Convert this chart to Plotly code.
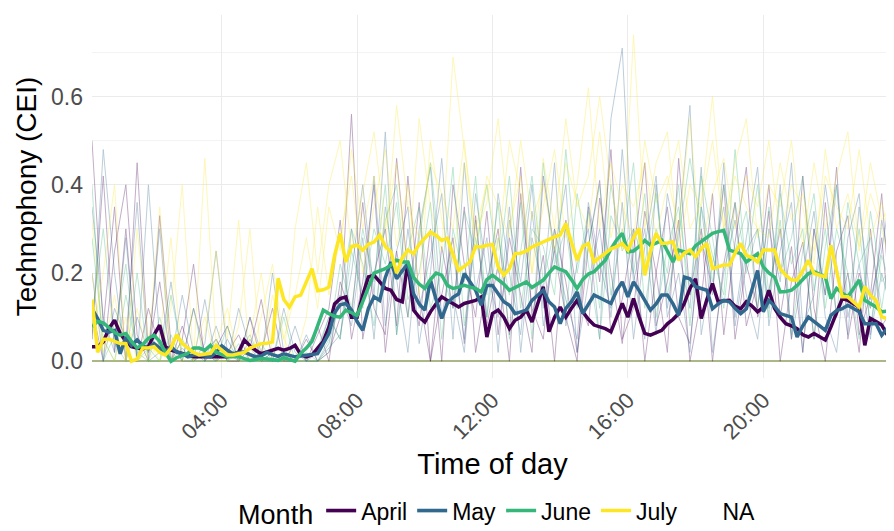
import pandas as pd
import plotly.graph_objects as go

# monthly mean CEI, 10-min steps from 00:10 to 23:50 (one row per hour)
april = [
    .033, .033, .044, .074, .093, .063,  .045, .033, .030, .028, .033, .060,
    .082, .033, .025, .021, .017, .014,  .010, .010, .010, .010, .010, .010,
    .010, .015, .021, .048, .035, .025,  .017, .021, .025, .029, .025, .029,
    .036, .015, .010, .014, .030, .045,  .078, .130, .142, .146, .100, .100,
    .150, .191, .195, .180, .165, .161,  .140, .135, .225, .116, .100, .089,
    .112, .130, .146, .138, .130, .123,  .131, .135, .138, .146, .055, .108,
    .116, .100, .074, .093, .100, .116,  .089, .130, .169, .067, .100, .123,
    .100, .120, .138, .112, .095, .082,  .078, .074, .067, .100, .131, .100,
    .142, .100, .063, .059, .065, .070,  .085, .095, .108, .131, .165, .187,
    .097, .140, .176, .135, .137, .138,  .125, .119, .135, .125, .112, .123,
    .161, .120, .100, .085, .080, .074,  .060, .055, .063, .055, .048, .078,
    .110, .142, .138, .130, .123, .036,  .097, .090, .082, .060, .055,
]
may = [
    .119, .097, .070, .066, .070, .017,  .055, .036, .048, .035, .029, .040,
    .030, .021, .033, .021, .017, .010,  .014, .014, .012, .010, .020, .035,
    .025, .017, .020, .021, .015, .010,  .012, .020, .015, .011, .017, .014,
    .010, .012, .014, .016, .017, .040,  .063, .110, .128, .131, .116, .090,
    .070, .120, .146, .138, .190, .225,  .187, .205, .221, .153, .130, .116,
    .184, .140, .097, .131, .145, .153,  .199, .180, .161, .127, .172, .172,
    .153, .135, .127, .108, .112, .116,  .138, .150, .161, .135, .123, .085,
    .120, .135, .157, .108, .130, .150,  .144, .138, .131, .160, .180, .146,
    .180, .160, .138, .116, .130, .150,  .150, .130, .104, .191, .187, .169,
    .165, .161, .119, .130, .138, .135,  .120, .108, .119, .160, .206, .112,
    .138, .125, .108, .104, .100, .055,  .080, .100, .089, .080, .070, .104,
    .115, .119, .127, .120, .112, .085,  .085, .085, .059, .075, .104,
]
june = [
    .078, .090, .087, .075, .065, .059,  .063, .045, .030, .038, .052, .059,
    .045, .020, .000, .008, .012, .018,  .030, .030, .025, .036, .020, .014,
    .010, .010, .010, .006, .002, .004,  .006, .005, .003, .002, .008, .004,
    .000, .018, .030, .045, .080, .116,  .108, .102, .100, .116, .110, .104,
    .135, .170, .200, .205, .210, .218,  .229, .225, .225, .190, .175, .165,
    .185, .200, .195, .172, .165, .168,  .172, .168, .165, .157, .185, .195,
    .184, .175, .161, .168, .175, .180,  .167, .175, .184, .200, .214, .208,
    .203, .185, .165, .185, .198, .203,  .215, .229, .255, .275, .290, .248,
    .250, .260, .274, .263, .268, .274,  .250, .225, .252, .248, .244, .262,
    .272, .282, .290, .294, .297, .252,  .248, .244, .225, .235, .244, .214,
    .200, .191, .157, .158, .161, .172,  .185, .199, .203, .198, .191, .142,
    .165, .155, .146, .165, .184, .138,  .130, .123, .112, .114, .116,
]
july = [
    .140, .020, .050, .050, .045, .040,  .040, .000, .005, .030, .030, .033,
    .020, .014, .030, .060, .040, .030,  .020, .014, .016, .018, .036, .025,
    .014, .014, .018, .020, .030, .036,  .040, .041, .044, .188, .140, .123,
    .146, .150, .180, .210, .160, .162,  .168, .240, .290, .225, .260, .263,
    .252, .265, .270, .286, .260, .248,  .200, .235, .252, .244, .265, .280,
    .293, .285, .274, .279, .240, .206,  .215, .225, .260, .259, .263, .265,
    .214, .195, .210, .244, .245, .250,  .259, .265, .270, .275, .282, .286,
    .312, .270, .229, .260, .267, .225,  .235, .244, .255, .260, .267, .252,
    .280, .301, .195, .250, .290, .267,  .268, .271, .229, .245, .252, .237,
    .255, .267, .210, .214, .218, .218,  .245, .267, .240, .235, .225, .252,
    .252, .252, .210, .195, .184, .184,  .205, .229, .199, .195, .191, .263,
    .200, .146, .146, .135, .123, .169,  .150, .138, .100, .097, .112,
]

# a few single days, 20-min steps from 00:10 to 23:50
apr_day1 = [
    0.05, 0.42, 0.02, 0.30, 0.00, 0.12, 0.03, 0.00, 0.08, 0.00, 0.02, 0.05,
    0.00, 0.00, 0.10, 0.00, 0.02, 0.00, 0.04, 0.00, 0.06, 0.12, 0.32, 0.05,
    0.18, 0.40, 0.02, 0.25, 0.10, 0.36, 0.00, 0.15, 0.28, 0.04, 0.33, 0.08,
    0.22, 0.00, 0.38, 0.12, 0.05, 0.30, 0.18, 0.02, 0.26, 0.41, 0.06, 0.14,
    0.30, 0.00, 0.20, 0.35, 0.10, 0.04, 0.28, 0.16, 0.40, 0.05, 0.22, 0.12,
    0.34, 0.00, 0.18, 0.27, 0.05, 0.36, 0.10, 0.20, 0.02, 0.30, 0.08, 0.12,
]
apr_day2 = [
    0.50, 0.08, 0.35, 0.00, 0.45, 0.02, 0.18, 0.00, 0.05, 0.22, 0.00, 0.03,
    0.08, 0.00, 0.03, 0.14, 0.00, 0.02, 0.00, 0.05, 0.00, 0.02, 0.10, 0.56,
    0.05, 0.20, 0.30, 0.08, 0.42, 0.15, 0.00, 0.26, 0.12, 0.35, 0.02, 0.18,
    0.30, 0.06, 0.44, 0.10, 0.24, 0.00, 0.32, 0.15, 0.08, 0.37, 0.20, 0.04,
    0.25, 0.45, 0.08, 0.18, 0.32, 0.00, 0.14, 0.38, 0.06, 0.27, 0.44, 0.10,
    0.16, 0.30, 0.05, 0.42, 0.12, 0.00, 0.25, 0.33, 0.06, 0.15, 0.38, 0.04,
]
apr_day3 = [
    0.12, 0.00, 0.25, 0.40, 0.06, 0.00, 0.33, 0.04, 0.00, 0.12, 0.02, 0.00,
    0.02, 0.06, 0.00, 0.02, 0.12, 0.00, 0.00, 0.03, 0.08, 0.00, 0.18, 0.10,
    0.36, 0.12, 0.06, 0.46, 0.20, 0.08, 0.30, 0.00, 0.40, 0.22, 0.10, 0.34,
    0.06, 0.28, 0.15, 0.02, 0.42, 0.25, 0.10, 0.00, 0.35, 0.18, 0.48, 0.05,
    0.12, 0.34, 0.20, 0.02, 0.46, 0.15, 0.30, 0.00, 0.22, 0.36, 0.08, 0.18,
    0.40, 0.10, 0.26, 0.02, 0.30, 0.15, 0.44, 0.05, 0.20, 0.12, 0.28, 0.00,
]
may_day1 = [
    0.35, 0.10, 0.02, 0.28, 0.00, 0.40, 0.05, 0.00, 0.15, 0.02, 0.00, 0.08,
    0.00, 0.12, 0.03, 0.00, 0.20, 0.02, 0.00, 0.06, 0.00, 0.04, 0.15, 0.08,
    0.28, 0.05, 0.35, 0.18, 0.02, 0.30, 0.44, 0.10, 0.25, 0.05, 0.38, 0.20,
    0.10, 0.35, 0.02, 0.28, 0.16, 0.45, 0.08, 0.22, 0.30, 0.05, 0.55, 0.71,
    0.20, 0.05, 0.40, 0.12, 0.30, 0.58, 0.06, 0.22, 0.35, 0.10, 0.28, 0.44,
    0.08, 0.25, 0.36, 0.02, 0.30, 0.15, 0.40, 0.10, 0.22, 0.05, 0.32, 0.18,
]
may_day2 = [
    0.05, 0.48, 0.20, 0.00, 0.10, 0.02, 0.30, 0.00, 0.03, 0.00, 0.14, 0.00,
    0.05, 0.00, 0.10, 0.02, 0.00, 0.00, 0.08, 0.00, 0.02, 0.10, 0.05, 0.30,
    0.12, 0.42, 0.08, 0.25, 0.35, 0.04, 0.20, 0.46, 0.15, 0.02, 0.32, 0.10,
    0.38, 0.20, 0.06, 0.34, 0.12, 0.25, 0.40, 0.02, 0.18, 0.30, 0.10, 0.36,
    0.05, 0.26, 0.42, 0.10, 0.20, 0.02, 0.35, 0.15, 0.45, 0.08, 0.25, 0.30,
    0.12, 0.40, 0.05, 0.20, 0.34, 0.10, 0.02, 0.28, 0.38, 0.06, 0.20, 0.10,
]
may_day3 = [
    0.20, 0.00, 0.12, 0.05, 0.36, 0.00, 0.02, 0.18, 0.00, 0.00, 0.04, 0.25,
    0.02, 0.00, 0.05, 0.00, 0.00, 0.12, 0.02, 0.00, 0.00, 0.03, 0.06, 0.20,
    0.40, 0.15, 0.52, 0.06, 0.30, 0.12, 0.24, 0.38, 0.05, 0.45, 0.16, 0.28,
    0.02, 0.32, 0.18, 0.40, 0.08, 0.26, 0.14, 0.05, 0.36, 0.22, 0.12, 0.48,
    0.18, 0.30, 0.06, 0.38, 0.25, 0.12, 0.44, 0.02, 0.20, 0.32, 0.15, 0.05,
    0.30, 0.18, 0.45, 0.08, 0.15, 0.40, 0.22, 0.06, 0.35, 0.14, 0.25, 0.42,
]
jun_day1 = [
    0.28, 0.05, 0.00, 0.15, 0.02, 0.00, 0.10, 0.00, 0.05, 0.00, 0.02, 0.00,
    0.08, 0.00, 0.00, 0.04, 0.00, 0.10, 0.00, 0.02, 0.00, 0.05, 0.22, 0.12,
    0.30, 0.18, 0.40, 0.06, 0.25, 0.35, 0.12, 0.20, 0.44, 0.08, 0.28, 0.15,
    0.36, 0.05, 0.25, 0.42, 0.18, 0.30, 0.10, 0.38, 0.22, 0.05, 0.33, 0.26,
    0.45, 0.12, 0.30, 0.20, 0.40, 0.08, 0.35, 0.24, 0.15, 0.48, 0.20, 0.30,
    0.10, 0.38, 0.22, 0.30, 0.05, 0.26, 0.40, 0.14, 0.30, 0.08, 0.24, 0.15,
]
jun_day2 = [
    0.10, 0.30, 0.04, 0.00, 0.20, 0.00, 0.00, 0.06, 0.00, 0.12, 0.00, 0.00,
    0.00, 0.04, 0.00, 0.00, 0.02, 0.00, 0.00, 0.00, 0.03, 0.10, 0.05, 0.25,
    0.15, 0.30, 0.22, 0.36, 0.10, 0.28, 0.45, 0.20, 0.12, 0.34, 0.25, 0.40,
    0.20, 0.42, 0.12, 0.30, 0.26, 0.15, 0.48, 0.20, 0.34, 0.12, 0.40, 0.25,
    0.30, 0.22, 0.38, 0.15, 0.28, 0.46, 0.30, 0.18, 0.40, 0.25, 0.34, 0.12,
    0.35, 0.20, 0.28, 0.42, 0.16, 0.30, 0.10, 0.36, 0.22, 0.28, 0.12, 0.30,
]
jun_day3 = [
    0.40, 0.00, 0.06, 0.22, 0.00, 0.03, 0.00, 0.15, 0.02, 0.00, 0.00, 0.05,
    0.00, 0.02, 0.06, 0.00, 0.00, 0.00, 0.04, 0.00, 0.00, 0.02, 0.15, 0.30,
    0.22, 0.08, 0.32, 0.40, 0.14, 0.20, 0.36, 0.05, 0.30, 0.18, 0.42, 0.10,
    0.28, 0.15, 0.36, 0.05, 0.45, 0.22, 0.30, 0.12, 0.26, 0.40, 0.15, 0.30,
    0.20, 0.38, 0.10, 0.26, 0.35, 0.15, 0.42, 0.28, 0.12, 0.36, 0.22, 0.40,
    0.15, 0.32, 0.06, 0.25, 0.38, 0.12, 0.30, 0.20, 0.05, 0.34, 0.18, 0.22,
]
jul_day1 = [
    0.32, 0.05, 0.00, 0.10, 0.00, 0.02, 0.35, 0.00, 0.05, 0.00, 0.46, 0.04,
    0.12, 0.00, 0.05, 0.20, 0.02, 0.00, 0.30, 0.45, 0.20, 0.40, 0.50, 0.25,
    0.38, 0.52, 0.30, 0.45, 0.20, 0.55, 0.35, 0.25, 0.69, 0.48, 0.30, 0.40,
    0.25, 0.50, 0.38, 0.20, 0.46, 0.30, 0.55, 0.35, 0.42, 0.60, 0.40, 0.25,
    0.74, 0.30, 0.45, 0.52, 0.25, 0.40, 0.35, 0.50, 0.30, 0.45, 0.55, 0.28,
    0.40, 0.35, 0.50, 0.26, 0.45, 0.30, 0.42, 0.52, 0.25, 0.38, 0.30, 0.20,
]
jul_day2 = [
    0.05, 0.20, 0.40, 0.00, 0.12, 0.00, 0.05, 0.28, 0.00, 0.02, 0.10, 0.00,
    0.00, 0.08, 0.30, 0.00, 0.15, 0.05, 0.00, 0.10, 0.35, 0.15, 0.28, 0.42,
    0.20, 0.35, 0.48, 0.26, 0.40, 0.15, 0.50, 0.32, 0.22, 0.45, 0.28, 0.36,
    0.55, 0.30, 0.42, 0.20, 0.35, 0.48, 0.28, 0.40, 0.62, 0.30, 0.45, 0.35,
    0.28, 0.50, 0.36, 0.42, 0.30, 0.55, 0.25, 0.38, 0.46, 0.30, 0.42, 0.35,
    0.50, 0.28, 0.40, 0.35, 0.22, 0.48, 0.30, 0.38, 0.26, 0.45, 0.32, 0.36,
]
jul_day3 = [
    0.20, 0.02, 0.15, 0.00, 0.30, 0.05, 0.00, 0.12, 0.40, 0.00, 0.06, 0.25,
    0.05, 0.32, 0.00, 0.10, 0.22, 0.05, 0.15, 0.28, 0.12, 0.35, 0.25, 0.48,
    0.30, 0.42, 0.25, 0.58, 0.35, 0.28, 0.45, 0.38, 0.30, 0.50, 0.25, 0.42,
    0.35, 0.28, 0.50, 0.32, 0.40, 0.25, 0.45, 0.36, 0.30, 0.52, 0.28, 0.40,
    0.35, 0.45, 0.28, 0.40, 0.50, 0.30, 0.36, 0.60, 0.30, 0.42, 0.35, 0.30,
    0.28, 0.45, 0.32, 0.38, 0.25, 0.42, 0.35, 0.30, 0.48, 0.28, 0.36, 0.25,
]

months = ['April', 'May', 'June', 'July']
colors = ['#440154', '#31688E', '#35B779', '#FDE725']
tick_labels = ['04:00', '08:00', '12:00', '16:00', '20:00']

means = [april, may, june, july]
days = [[apr_day1, apr_day2, apr_day3], [may_day1, may_day2, may_day3],
        [jun_day1, jun_day2, jun_day3], [jul_day1, jul_day2, jul_day3]]

t_mean = pd.date_range('2021-01-01 00:10', periods=len(april), freq='10min')
t_day = pd.date_range('2021-01-01 00:10', periods=len(apr_day1), freq='20min')
tick_vals = [pd.Timestamp('2021-01-01 ' + s) for s in tick_labels]

FONT = 'Liberation Sans, Arial, sans-serif'

fig = go.Figure()

# faint daily lines
for month_days, col in zip(days, colors):
    for d in month_days:
        fig.add_trace(go.Scatter(
            x=t_day, y=d, mode='lines', showlegend=False, hoverinfo='skip',
            line=dict(color=col, width=0.8), opacity=0.4
        ))

# monthly means
for name, vals, col in zip(months, means, colors):
    fig.add_trace(go.Scatter(
        x=t_mean, y=vals, mode='lines', name=name,
        line=dict(color=col, width=3.5)
    ))

fig.add_trace(go.Scatter(
    x=[None], y=[None], mode='lines', name='NA',
    line=dict(color='rgba(0,0,0,0)', width=3)
))

# the page body keeps its default 8px margin, so the figure is 8px smaller
fig.update_layout(
    width=886, height=523,
    margin=dict(l=84, r=1, t=7, b=153),
    plot_bgcolor='white', paper_bgcolor='white',
    font=dict(family=FONT, color='black'),
    legend=dict(
        orientation='h', x=0.507, xanchor='center',
        yref='container', y=0.036, yanchor='middle',
        title=dict(text='Month', font=dict(size=27), side='left'),
        font=dict(size=23), itemwidth=30, tracegroupgap=0
    ),
)

fig.update_xaxes(
    range=[t_mean[0], t_mean[-1]], automargin=False,
    tickvals=tick_vals, ticktext=tick_labels, tickangle=-45,
    tickfont=dict(size=22, color='#4D4D4D'), ticks='', ticklabelstandoff=4,
    showgrid=True, gridcolor='#EBEBEB', gridwidth=1.2,
    zeroline=False, showline=False,
    title=dict(text='Time of day', font=dict(size=29), standoff=10)
)

fig.update_yaxes(
    range=[-0.038, 0.785], automargin=False,
    tickvals=[0, 0.2, 0.4, 0.6], ticktext=['0.0', '0.2', '0.4', '0.6'],
    tickfont=dict(size=23, color='#4D4D4D'), ticks='', ticklabelstandoff=8,
    showgrid=True, gridcolor='#EBEBEB', gridwidth=1.2,
    minor=dict(tickvals=[0.1, 0.3, 0.5, 0.7], showgrid=True,
               gridcolor='#F3F3F3', gridwidth=0.8),
    zeroline=True, zerolinecolor='rgba(150,165,105,0.8)', zerolinewidth=2,
    showline=False,
    title=dict(text='Technophony (CEI)', font=dict(size=28), standoff=6)
)

fig.write_html('out.html')
